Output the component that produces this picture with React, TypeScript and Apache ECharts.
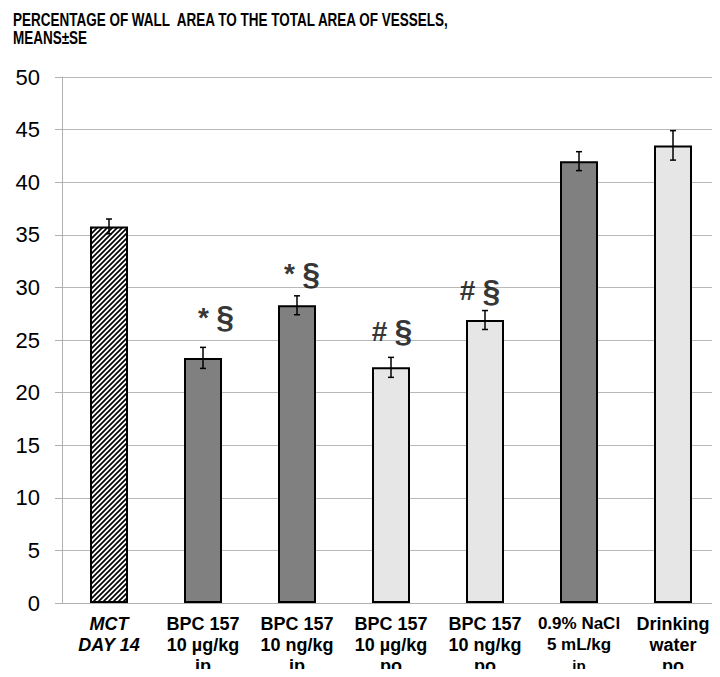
import React, { useEffect, useRef } from "react";
import * as echarts from "echarts";

const categories = [
  "MCT\nDAY 14",
  "BPC 157\n10 µg/kg\nip",
  "BPC 157\n10 ng/kg\nip",
  "BPC 157\n10 µg/kg\npo",
  "BPC 157\n10 ng/kg\npo",
  "0.9% NaCl\n5 mL/kg\nip",
  "Drinking\nwater\npo",
];
const means = [35.8, 23.3, 28.3, 22.4, 26.9, 42.0, 43.5];
const errors = [0.7, 1.0, 0.9, 0.95, 0.9, 0.9, 1.4];
const fills = ["hatch", "dark", "dark", "light", "light", "dark", "light"];
const annotations = ["", "* §", "* §", "# §", "# §", "", ""];
const annotationShiftX = [0, 13, 5, 1, -5, 0, 0];
const annotationShiftY = [0, -8, 0, -4, 2, 0, 0];
const yTicks = { min: 0, max: 50, interval: 5 };
const titleText = "PERCENTAGE OF WALL  AREA TO THE TOTAL AREA OF VESSELS,\nMEANS±SE";

const FONT = "'Liberation Sans', Arial, sans-serif";

function makeHatch(): HTMLCanvasElement {
  const c = document.createElement("canvas");
  const s = 5;
  c.width = s;
  c.height = s;
  const ctx = c.getContext("2d")!;
  ctx.fillStyle = "#ffffff";
  ctx.fillRect(0, 0, s, s);
  ctx.strokeStyle = "#000000";
  ctx.lineWidth = 1.7;
  ctx.lineCap = "square";
  ctx.beginPath();
  ctx.moveTo(-1, s + 1);
  ctx.lineTo(s + 1, -1);
  ctx.moveTo(-1, 1);
  ctx.lineTo(1, -1);
  ctx.moveTo(s - 1, s + 1);
  ctx.lineTo(s + 1, s - 1);
  ctx.stroke();
  return c;
}

export default function App() {
  const ref = useRef<HTMLDivElement>(null);
  useEffect(() => {
    if (!ref.current) return;
    const chart = echarts.init(ref.current, null, { renderer: "svg" });
    const hatch = makeHatch();
    const barData = means.map((m, i) => {
      const f = fills[i];
      if (f === "hatch") {
        return {
          value: m,
          itemStyle: {
            color: { image: hatch, repeat: "repeat" },
            borderColor: "#000",
            borderWidth: 2,
          },
        };
      }
      return {
        value: m,
        itemStyle: {
          color: f === "dark" ? "#808080" : "#e6e6e6",
          borderColor: "#000",
          borderWidth: 2,
        },
      };
    });
    const option: any = {
      animation: false,
      graphic: [
        {
          type: "text",
          x: 13,
          y: 11,
          scaleX: 0.75,
          style: {
            text: titleText,
            fontFamily: FONT,
            fontWeight: "bold",
            fontSize: 18,
            lineHeight: 18,
            fill: "#000",
            textAlign: "left",
            textVerticalAlign: "top",
          },
        },
      ],
      grid: { left: 62, top: 77, width: 664, bottom: 74, containLabel: false },
      xAxis: {
        type: "category",
        data: categories,
        axisLine: { show: true, lineStyle: { color: "#b0b0b0", width: 1 } },
        axisTick: { show: false },
        axisLabel: {
          interval: 0,
          margin: 10,
          color: "#000",
          fontFamily: FONT,
          fontWeight: "bold",
          fontSize: 18,
          lineHeight: 21,
          formatter: (v: string, i: number) => {
            const lines = v.split("\n");
            if (i === 0) return lines.map((l) => `{it|${l}}`).join("\n");
            if (v.startsWith("0.9%"))
              return lines.map((l, k) => (k === 2 ? `{xs|${l}}` : `{sm|${l}}`)).join("\n");
            return v;
          },
          rich: {
            it: { fontStyle: "italic", fontWeight: "bold", fontSize: 18, lineHeight: 21, fontFamily: FONT, color: "#000" },
            sm: { fontWeight: "bold", fontSize: 17, lineHeight: 21, fontFamily: FONT, color: "#000" },
            xs: { fontWeight: "bold", fontSize: 15, lineHeight: 21, fontFamily: FONT, color: "#000" },
          },
        },
      },
      yAxis: {
        type: "value",
        min: yTicks.min,
        max: yTicks.max,
        interval: yTicks.interval,
        axisLine: { show: true, lineStyle: { color: "#b0b0b0", width: 1 } },
        axisTick: { show: true, length: 7, lineStyle: { color: "#b0b0b0" } },
        splitLine: { show: true, lineStyle: { color: "#b8b8b8", width: 1 } },
        axisLabel: {
          margin: 22,
          color: "#000",
          fontFamily: FONT,
          fontSize: 22,
        },
      },
      series: [
        {
          type: "bar",
          data: barData,
          barWidth: 38,
          z: 2,
        },
        {
          type: "custom",
          z: 5,
          data: means.map((m, i) => [i, m - errors[i], m + errors[i]]),
          renderItem: (params: any, api: any) => {
            const i = api.value(0);
            const lo = api.coord([i, api.value(1)]);
            const hi = api.coord([i, api.value(2)]);
            const hw = 3;
            const style = { stroke: "#000", lineWidth: 1.5 };
            return {
              type: "group",
              children: [
                { type: "line", shape: { x1: hi[0], y1: hi[1], x2: lo[0], y2: lo[1] }, style },
                { type: "line", shape: { x1: hi[0] - hw, y1: hi[1], x2: hi[0] + hw, y2: hi[1] }, style },
                { type: "line", shape: { x1: lo[0] - hw, y1: lo[1], x2: lo[0] + hw, y2: lo[1] }, style },
              ],
            };
          },
        },
        {
          type: "scatter",
          symbolSize: 0,
          z: 6,
          data: means.map((m, i) => ({
            value: [i, m + errors[i]],
            label: {
              show: annotations[i] !== "",
              formatter: annotations[i]
                .split(" ")
                .map((s) => (s === "§" ? `{sec|${s}}` : `{sym|${s}}`))
                .join(" "),
              position: "top",
              distance: 6,
              offset: [annotationShiftX[i], annotationShiftY[i]],
              fontFamily: FONT,
              fontWeight: "bold",
              fontSize: 26,
              color: "#000",
              rich: {
                sym: { fontFamily: FONT, fontWeight: "bold", fontSize: 28, color: "#000" },
                sec: { fontFamily: FONT, fontWeight: "bold", fontSize: 32, color: "#000" },
              },
            },
          })),
        },
      ],
    };
    chart.setOption(option);
    return () => chart.dispose();
  }, []);
  return <div ref={ref} style={{ width: 720, height: 677, margin: -8 }} />;
}
